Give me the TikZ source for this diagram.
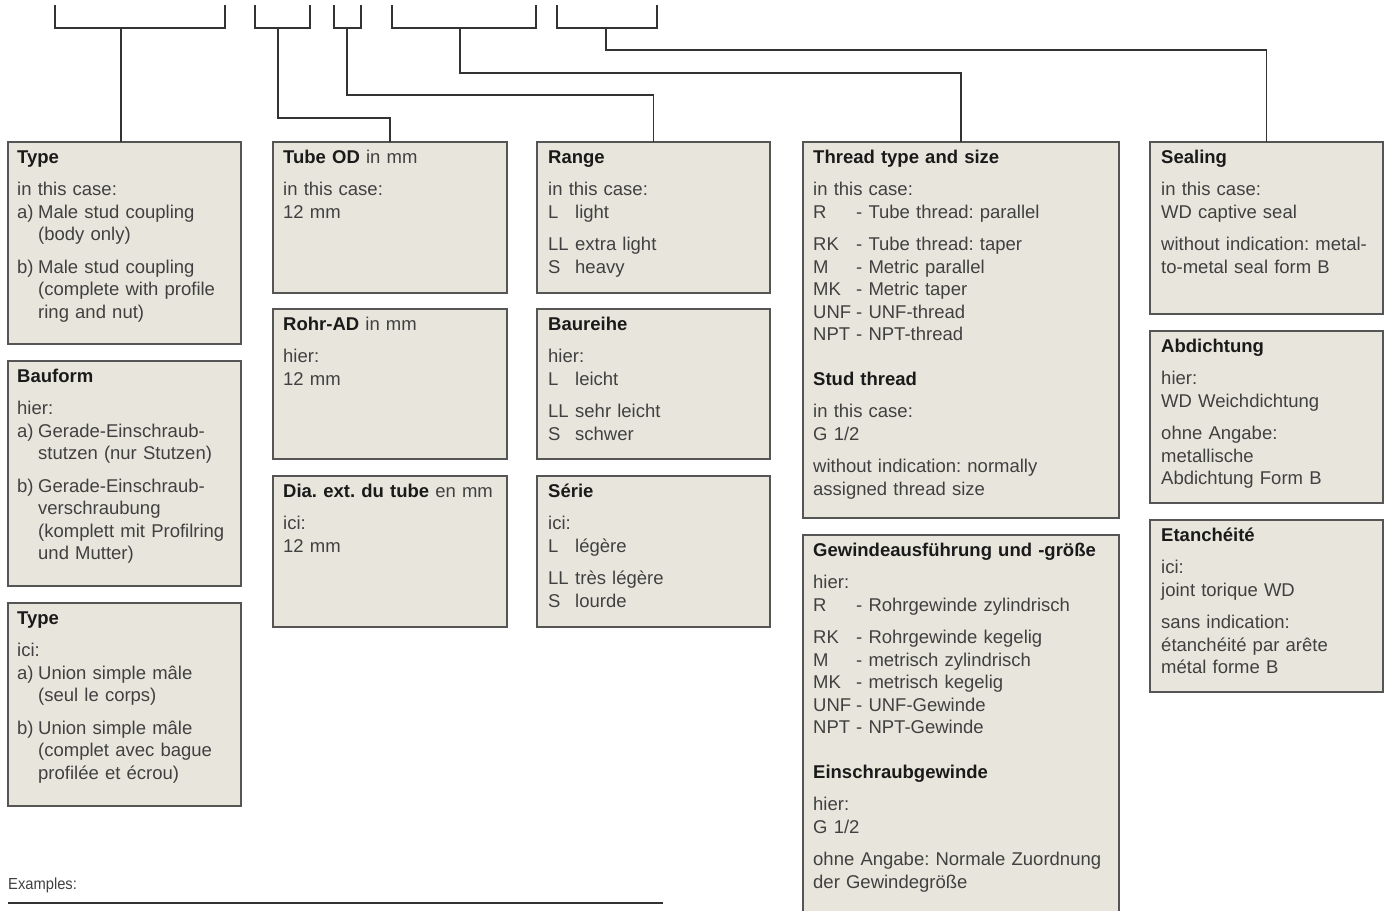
\documentclass[tikz,border=0pt]{standalone}
\usepackage{fontspec}
\setmainfont{Liberation Sans}
\newfontfamily\condfont[FakeStretch=0.92]{Liberation Sans}
\usetikzlibrary{positioning}
\frenchspacing

\definecolor{boxfill}{HTML}{E8E6DC}
\definecolor{boxline}{HTML}{555555}
\definecolor{bodytext}{HTML}{404040}
\definecolor{headtext}{HTML}{1A1A1A}
\definecolor{wirec}{HTML}{333333}

\newcommand{\hd}[1]{{\bfseries\color{headtext}#1}}
\newcommand{\lbl}[1]{\makebox[21pt][l]{#1}}
\newcommand{\ind}{\hspace*{21pt}}
\newcommand{\code}[1]{\makebox[43pt][l]{#1}}
\newcommand{\rng}[1]{\makebox[27pt][l]{#1}}

\tikzset{
  infobox/.style={draw=boxline, line width=1.4pt, fill=boxfill, anchor=north west, inner sep=0pt, outer sep=0pt},
  infotext/.style={anchor=base west, inner sep=0pt, align=left, text width=#1, text=bodytext},
  wire/.style={draw=wirec, line width=1.4pt},
}

\begin{document}
\begin{tikzpicture}[x=1pt, y=-1pt, font=\fontsize{18.5}{22.5}\selectfont]
    \useasboundingbox (0,0) rectangle (1391,910);

    % column 1: type
    \node[infobox, minimum width=233, minimum height=202] (typeen) at (8,142) {};
    \node[infobox, minimum width=233, minimum height=225, below=17pt of typeen] (typede) {};
    \node[infobox, minimum width=233, minimum height=203, below=17pt of typede] (typefr) {};
    % column 2: tube OD
    \node[infobox, minimum width=234, minimum height=151] (oden) at (273,142) {};
    \node[infobox, minimum width=234, minimum height=150, below=16pt of oden] (odde) {};
    \node[infobox, minimum width=234, minimum height=151, below=17pt of odde] (odfr) {};
    % column 3: range
    \node[infobox, minimum width=233, minimum height=151] (rangeen) at (537,142) {};
    \node[infobox, minimum width=233, minimum height=150, below=16pt of rangeen] (rangede) {};
    \node[infobox, minimum width=233, minimum height=151, below=17pt of rangede] (rangefr) {};
    % column 4: thread
    \node[infobox, minimum width=316, minimum height=376] (threaden) at (803,142) {};
    \node[infobox, minimum width=316, minimum height=420, below=17pt of threaden] (threadde) {};
    % column 5: sealing
    \node[infobox, minimum width=233, minimum height=172] (sealen) at (1150,142) {};
    \node[infobox, minimum width=233, minimum height=172, below=17pt of sealen] (sealde) {};
    \node[infobox, minimum width=233, minimum height=172, below=17pt of sealde] (sealfr) {};

    % texts
    \node[infotext=223pt] (typeenT) at ([shift={(9,21)}]typeen.north west) {\hd{Type}\\[10pt]
      in this case:\\
      \lbl{a)}Male stud coupling\\
      \ind(body only)\\[10pt]
      \lbl{b)}Male stud coupling\\
      \ind(complete with profile\\
      \ind ring and nut)};
    \node[infotext=223pt] (typedeT) at ([shift={(9,21)}]typede.north west) {\hd{Bauform}\\[10pt]
      hier:\\
      \lbl{a)}Gerade-Einschraub-\\
      \ind stutzen (nur Stutzen)\\[10pt]
      \lbl{b)}Gerade-Einschraub-\\
      \ind verschraubung\\
      \ind(komplett mit Profilring\\
      \ind und Mutter)};
    \node[infotext=223pt] (typefrT) at ([shift={(9,21)}]typefr.north west) {\hd{Type}\\[10pt]
      ici:\\
      \lbl{a)}Union simple mâle\\
      \ind(seul le corps)\\[10pt]
      \lbl{b)}Union simple mâle\\
      \ind(complet avec bague\\
      \ind profilée et écrou)};

    \node[infotext=224pt] (odenT) at ([shift={(10,21)}]oden.north west) {\hd{Tube OD} in mm\\[10pt]
      in this case:\\
      12 mm};
    \node[infotext=224pt] (oddeT) at ([shift={(10,21)}]odde.north west) {\hd{Rohr-AD} in mm\\[10pt]
      hier:\\
      12 mm};
    \node[infotext=224pt] (odfrT) at ([shift={(10,21)}]odfr.north west) {\hd{Dia. ext. du tube} en mm\\[10pt]
      ici:\\
      12 mm};

    \node[infotext=223pt] (rangeenT) at ([shift={(11,21)}]rangeen.north west) {\hd{Range}\\[10pt]
      in this case:\\
      \rng{L}light\\[10pt]
      \rng{LL}extra light\\
      \rng{S}heavy};
    \node[infotext=223pt] (rangedeT) at ([shift={(11,21)}]rangede.north west) {\hd{Baureihe}\\[10pt]
      hier:\\
      \rng{L}leicht\\[10pt]
      \rng{LL}sehr leicht\\
      \rng{S}schwer};
    \node[infotext=223pt] (rangefrT) at ([shift={(11,21)}]rangefr.north west) {\hd{Série}\\[10pt]
      ici:\\
      \rng{L}légère\\[10pt]
      \rng{LL}très légère\\
      \rng{S}lourde};

    \node[infotext=306pt] (threadenT) at ([shift={(10,21)}]threaden.north west) {\hd{Thread type and size}\\[10pt]
      in this case:\\
      \code{R}- Tube thread: parallel\\[10pt]
      \code{RK}- Tube thread: taper\\
      \code{M}- Metric parallel\\
      \code{MK}- Metric taper\\
      \code{UNF}- UNF-thread\\
      \code{NPT}- NPT-thread\\[22pt]
      \hd{Stud thread}\\[10pt]
      in this case:\\
      G 1/2\\[10pt]
      without indication: normally\\
      assigned thread size};
    \node[infotext=306pt] (threaddeT) at ([shift={(10,21)}]threadde.north west) {\hd{Gewindeausführung und -größe}\\[10pt]
      hier:\\
      \code{R}- Rohrgewinde zylindrisch\\[10pt]
      \code{RK}- Rohrgewinde kegelig\\
      \code{M}- metrisch zylindrisch\\
      \code{MK}- metrisch kegelig\\
      \code{UNF}- UNF-Gewinde\\
      \code{NPT}- NPT-Gewinde\\[22pt]
      \hd{Einschraubgewinde}\\[10pt]
      hier:\\
      G 1/2\\[10pt]
      ohne Angabe: Normale Zuordnung\\
      der Gewindegröße};

    \node[infotext=223pt] (sealenT) at ([shift={(11,21)}]sealen.north west) {\hd{Sealing}\\[10pt]
      in this case:\\
      WD captive seal\\[10pt]
      without indication: metal-\\
      to-metal seal form B};
    \node[infotext=223pt] (sealdeT) at ([shift={(11,21)}]sealde.north west) {\hd{Abdichtung}\\[10pt]
      hier:\\
      WD Weichdichtung\\[10pt]
      ohne Angabe:\\
      metallische\\
      Abdichtung Form B};
    \node[infotext=223pt] (sealfrT) at ([shift={(11,21)}]sealfr.north west) {\hd{Etanchéité}\\[10pt]
      ici:\\
      joint torique WD\\[10pt]
      sans indication:\\
      étanchéité par arête\\
      métal forme B};

    % brackets over the order code
    \draw[wire] (55,5) -- (55,28) -- (225,28) -- (225,5);
    \draw[wire] (255,5) -- (255,28) -- (310,28) -- (310,5);
    \draw[wire] (334,5) -- (334,28) -- (361,28) -- (361,5);
    \draw[wire] (392,5) -- (392,28) -- (536,28) -- (536,5);
    \draw[wire] (557,5) -- (557,28) -- (657,28) -- (657,5);
    \coordinate (s1) at (121,28);
    \coordinate (s2) at (278,28);
    \coordinate (s3) at (347,28);
    \coordinate (s4) at (460,28);
    \coordinate (s5) at (606,28);

    % leaders down to the boxes
    \draw[wire] (s1) -- (s1 |- typeen.north);
    \draw[wire] (s2) -- ++(0,90) -| (oden.north);
    \draw[wire] (s3) -- ++(0,67) -| (rangeen.north);
    \draw[wire] (s4) -- ++(0,45) -| (threaden.north);
    \draw[wire] (s5) -- ++(0,22) -| (sealen.north);

    % examples
    \node[anchor=base west, inner sep=0pt, text=bodytext, font=\condfont\fontsize{16}{19}\selectfont] (examples) at (8,889) {Examples:};
    \draw[wire] (8,903) -- (663,903);
  \end{tikzpicture}
\end{document}
